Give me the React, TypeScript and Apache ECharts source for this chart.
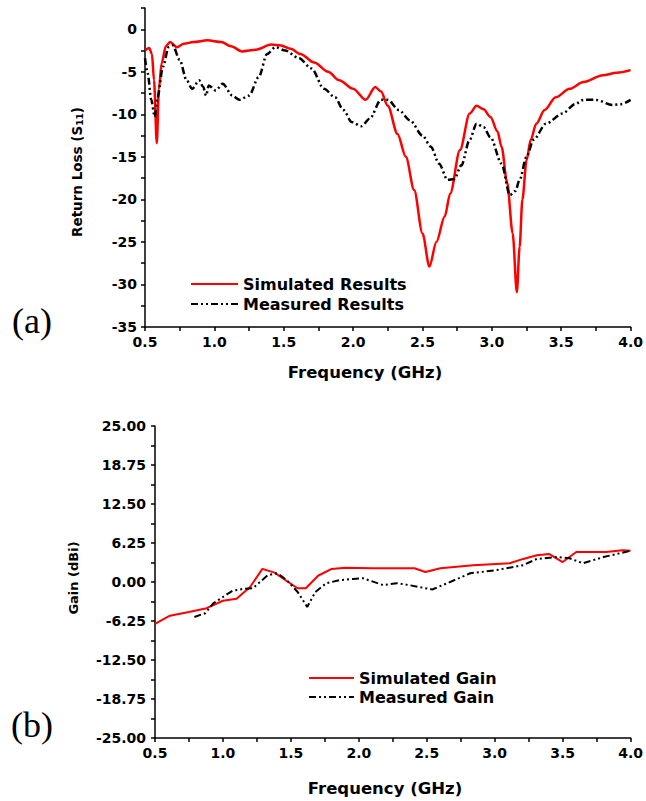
import React, { useEffect, useRef } from "react";
import * as echarts from "echarts";

// ---- Data ----
// (a) Return loss S11 (dB) vs frequency (GHz)
const simS11: [number, number][] = [
  [0.5, -2.5], [0.53, -2.2], [0.55, -2.9], [0.565, -6.0], [0.585, -13.4], [0.6, -7.0],
  [0.62, -4.0], [0.65, -2.0], [0.68, -1.5], [0.73, -2.1], [0.78, -1.7], [0.85, -1.5],
  [0.95, -1.3], [1.05, -1.5], [1.12, -2.0], [1.2, -2.6], [1.3, -2.4], [1.41, -1.8],
  [1.48, -1.9], [1.55, -2.3], [1.62, -2.9], [1.72, -3.9], [1.82, -5.0], [1.9, -6.0],
  [2.0, -7.0], [2.09, -8.3], [2.16, -6.8], [2.2, -7.3], [2.25, -9.0], [2.32, -12.3],
  [2.38, -15.0], [2.44, -18.9], [2.5, -24.0], [2.55, -27.9], [2.6, -25.0], [2.66, -22.0],
  [2.7, -19.3], [2.77, -14.2], [2.84, -9.9], [2.89, -9.0], [2.94, -9.4], [2.99, -10.3],
  [3.04, -12.0], [3.07, -13.8], [3.11, -18.0], [3.15, -24.0], [3.18, -30.9], [3.2, -25.6],
  [3.22, -20.0], [3.25, -15.4], [3.28, -13.0], [3.32, -11.1], [3.38, -9.5], [3.46, -8.0],
  [3.56, -7.0], [3.66, -6.2], [3.8, -5.4], [3.9, -5.1], [4.0, -4.8],
];
const measS11: [number, number][] = [
  [0.5, -3.4], [0.52, -5.2], [0.545, -8.3], [0.57, -10.3], [0.59, -8.0], [0.63, -4.4],
  [0.67, -2.1], [0.7, -1.9], [0.75, -3.6], [0.8, -6.0], [0.84, -7.0], [0.89, -6.0],
  [0.92, -6.8], [0.94, -7.8], [0.96, -6.6], [1.01, -7.2], [1.06, -6.4], [1.13, -7.8],
  [1.18, -8.3], [1.25, -7.8], [1.32, -5.6], [1.38, -2.9], [1.44, -2.1], [1.51, -2.5],
  [1.61, -3.4], [1.7, -4.6], [1.79, -7.0], [1.87, -8.0], [1.93, -9.5], [1.99, -10.9],
  [2.06, -11.4], [2.12, -10.5], [2.2, -8.3], [2.25, -8.3], [2.33, -9.5], [2.41, -10.7],
  [2.5, -12.5], [2.56, -13.8], [2.62, -15.8], [2.68, -17.7], [2.73, -17.6], [2.78, -16.0],
  [2.84, -13.0], [2.89, -11.1], [2.94, -11.5], [2.99, -12.7], [3.07, -15.8], [3.13, -19.5],
  [3.17, -19.0], [3.2, -17.7], [3.25, -15.0], [3.3, -13.0], [3.39, -11.1], [3.51, -9.9],
  [3.6, -8.8], [3.66, -8.3], [3.75, -8.3], [3.87, -8.9], [3.93, -8.8], [4.0, -8.3],
];

// (b) Gain (dBi) vs frequency (GHz)
const simGain: [number, number][] = [
  [0.5, -6.7], [0.61, -5.4], [0.75, -4.8], [0.88, -4.2], [1.0, -3.0], [1.1, -2.7],
  [1.2, -0.8], [1.29, 2.1], [1.38, 1.5], [1.48, 0.0], [1.55, -1.0], [1.61, -1.0],
  [1.7, 1.0], [1.8, 2.1], [1.9, 2.3], [2.1, 2.2], [2.41, 2.2], [2.49, 1.6], [2.6, 2.2],
  [2.84, 2.7], [3.11, 3.0], [3.21, 3.7], [3.31, 4.3], [3.4, 4.5], [3.5, 3.2], [3.6, 4.8],
  [3.82, 4.8], [3.94, 5.1], [4.0, 5.0],
];
const measGain: [number, number][] = [
  [0.79, -5.6], [0.87, -5.0], [0.93, -3.4], [1.0, -2.4], [1.07, -1.4], [1.15, -1.1],
  [1.22, -1.0], [1.33, 1.1], [1.4, 1.4], [1.47, 0.3], [1.55, -1.6], [1.62, -4.0],
  [1.68, -1.6], [1.76, -0.2], [1.86, 0.3], [1.96, 0.5], [2.03, 0.6], [2.18, -0.5],
  [2.28, -0.2], [2.37, -0.5], [2.54, -1.2], [2.65, -0.2], [2.82, 1.4], [3.01, 1.9],
  [3.21, 2.7], [3.31, 3.7], [3.46, 4.0], [3.55, 3.8], [3.65, 3.0], [3.8, 4.0], [4.0, 5.0],
];

const legendTopNames = ["Simulated Results", "Measured Results"];
const legendBottomNames = ["Simulated Gain", "Measured Gain"];

const FONT = "DejaVu Sans";
const RED = "#ff0000";
const BLACK = "#000000";
const DASHDOT = [7, 3, 2, 3, 2, 3];

function axisCommon() {
  return {
    axisLine: { onZero: false, lineStyle: { color: BLACK, width: 1.5 } },
    axisTick: { inside: false, length: 4, lineStyle: { color: BLACK, width: 1.5 } },
    splitLine: { show: false },
  };
}

export default function App() {
  const ref = useRef<HTMLDivElement>(null);

  useEffect(() => {
    if (!ref.current) return;
    const chart = echarts.init(ref.current, undefined, { renderer: "svg" });
    const labelStyle = {
      color: BLACK,
      fontFamily: FONT,
      fontWeight: "bold" as const,
      fontSize: 14,
    };
    const legendText = { color: BLACK, fontFamily: FONT, fontWeight: "bold", fontSize: 16 };
    const xFmt = (v: number) =>
      Math.abs(v * 2 - Math.round(v * 2)) < 1e-9 ? v.toFixed(1) : "";
    const option: any = {
      animation: false,
      backgroundColor: "#ffffff",
      textStyle: { fontFamily: FONT },
      grid: [
        { left: 145, top: 8, width: 490, height: 319 },
        { left: 155, top: 426, width: 476, height: 312 },
      ],
      xAxis: [
        {
          type: "value", gridIndex: 0, min: 0.5, max: 4.0, interval: 0.25,
          ...axisCommon(),
          axisLabel: { ...labelStyle, margin: 8, formatter: xFmt },
        },
        {
          type: "value", gridIndex: 1, min: 0.5, max: 4.0, interval: 0.25,
          ...axisCommon(),
          axisLabel: { ...labelStyle, margin: 8, formatter: xFmt },
        },
      ],
      yAxis: [
        {
          type: "value", gridIndex: 0, min: -35, max: 2.5, interval: 2.5,
          ...axisCommon(),
          axisLabel: {
            ...labelStyle, margin: 8,
            formatter: (v: number) => (Math.abs(v / 5 - Math.round(v / 5)) < 1e-9 ? String(v) : ""),
          },
        },
        {
          type: "value", gridIndex: 1, min: -25, max: 25, interval: 3.125,
          ...axisCommon(),
          axisLabel: {
            ...labelStyle, margin: 9,
            formatter: (v: number) =>
              Math.abs(v / 6.25 - Math.round(v / 6.25)) < 1e-9 ? v.toFixed(2) : "",
          },
        },
      ],
      legend: [
        {
          data: legendTopNames, orient: "vertical", left: 185, top: 271,
          itemWidth: 47, itemHeight: 14, itemGap: 4, selectedMode: false,
          itemStyle: { opacity: 0 },
          textStyle: legendText,
        },
        {
          data: legendBottomNames, orient: "vertical", left: 303, top: 665,
          itemWidth: 45, itemHeight: 14, itemGap: 3, selectedMode: false,
          itemStyle: { opacity: 0 },
          textStyle: legendText,
        },
      ],
      series: [
        {
          name: legendTopNames[0], type: "line", xAxisIndex: 0, yAxisIndex: 0,
          data: simS11, smooth: 0.3, smoothMonotone: "x", symbol: "none",
          lineStyle: { color: RED, width: 2.5 }, itemStyle: { color: RED },
        },
        {
          name: legendTopNames[1], type: "line", xAxisIndex: 0, yAxisIndex: 0,
          data: measS11, smooth: 0.3, smoothMonotone: "x", symbol: "none",
          lineStyle: { color: BLACK, width: 2.5, type: DASHDOT }, itemStyle: { color: BLACK },
        },
        {
          name: legendBottomNames[0], type: "line", xAxisIndex: 1, yAxisIndex: 1,
          data: simGain, symbol: "none",
          lineStyle: { color: RED, width: 2 }, itemStyle: { color: RED },
        },
        {
          name: legendBottomNames[1], type: "line", xAxisIndex: 1, yAxisIndex: 1,
          data: measGain, symbol: "none",
          lineStyle: { color: BLACK, width: 2, type: DASHDOT }, itemStyle: { color: BLACK },
        },
      ],
      graphic: [
        {
          type: "text", x: 365, y: 372,
          style: {
            text: "Frequency (GHz)", fontFamily: FONT, fontWeight: "bold", fontSize: 16.5,
            fill: BLACK, align: "center", verticalAlign: "middle",
          },
        },
        {
          type: "text", x: 385, y: 788,
          style: {
            text: "Frequency (GHz)", fontFamily: FONT, fontWeight: "bold", fontSize: 16.5,
            fill: BLACK, align: "center", verticalAlign: "middle",
          },
        },
        {
          type: "text", x: 77, y: 172, rotation: Math.PI / 2,
          style: {
            text: "Return Loss (S{sub|11})", fontFamily: FONT, fontWeight: "bold", fontSize: 13.5,
            fill: BLACK, align: "center", verticalAlign: "middle",
            rich: {
              sub: {
                fontFamily: FONT, fontWeight: "bold", fontSize: 9, fill: BLACK,
                verticalAlign: "bottom", padding: [4, 0, 0, 0],
              },
            },
          },
        },
        {
          type: "text", x: 73, y: 578, rotation: Math.PI / 2,
          style: {
            text: "Gain (dBi)", fontFamily: FONT, fontWeight: "bold", fontSize: 13,
            fill: BLACK, align: "center", verticalAlign: "middle",
          },
        },
        {
          type: "text", x: 32, y: 321,
          style: {
            text: "(a)", fontFamily: "Liberation Serif", fontSize: 36,
            fill: BLACK, align: "center", verticalAlign: "middle",
          },
        },
        {
          type: "text", x: 32, y: 725,
          style: {
            text: "(b)", fontFamily: "Liberation Serif", fontSize: 36,
            fill: BLACK, align: "center", verticalAlign: "middle",
          },
        },
      ],
    };
    chart.setOption(option);
    return () => chart.dispose();
  }, []);

  return (
    <div
      ref={ref}
      style={{ position: "absolute", left: 0, top: 0, width: 646, height: 801, background: "#fff" }}
    />
  );
}
